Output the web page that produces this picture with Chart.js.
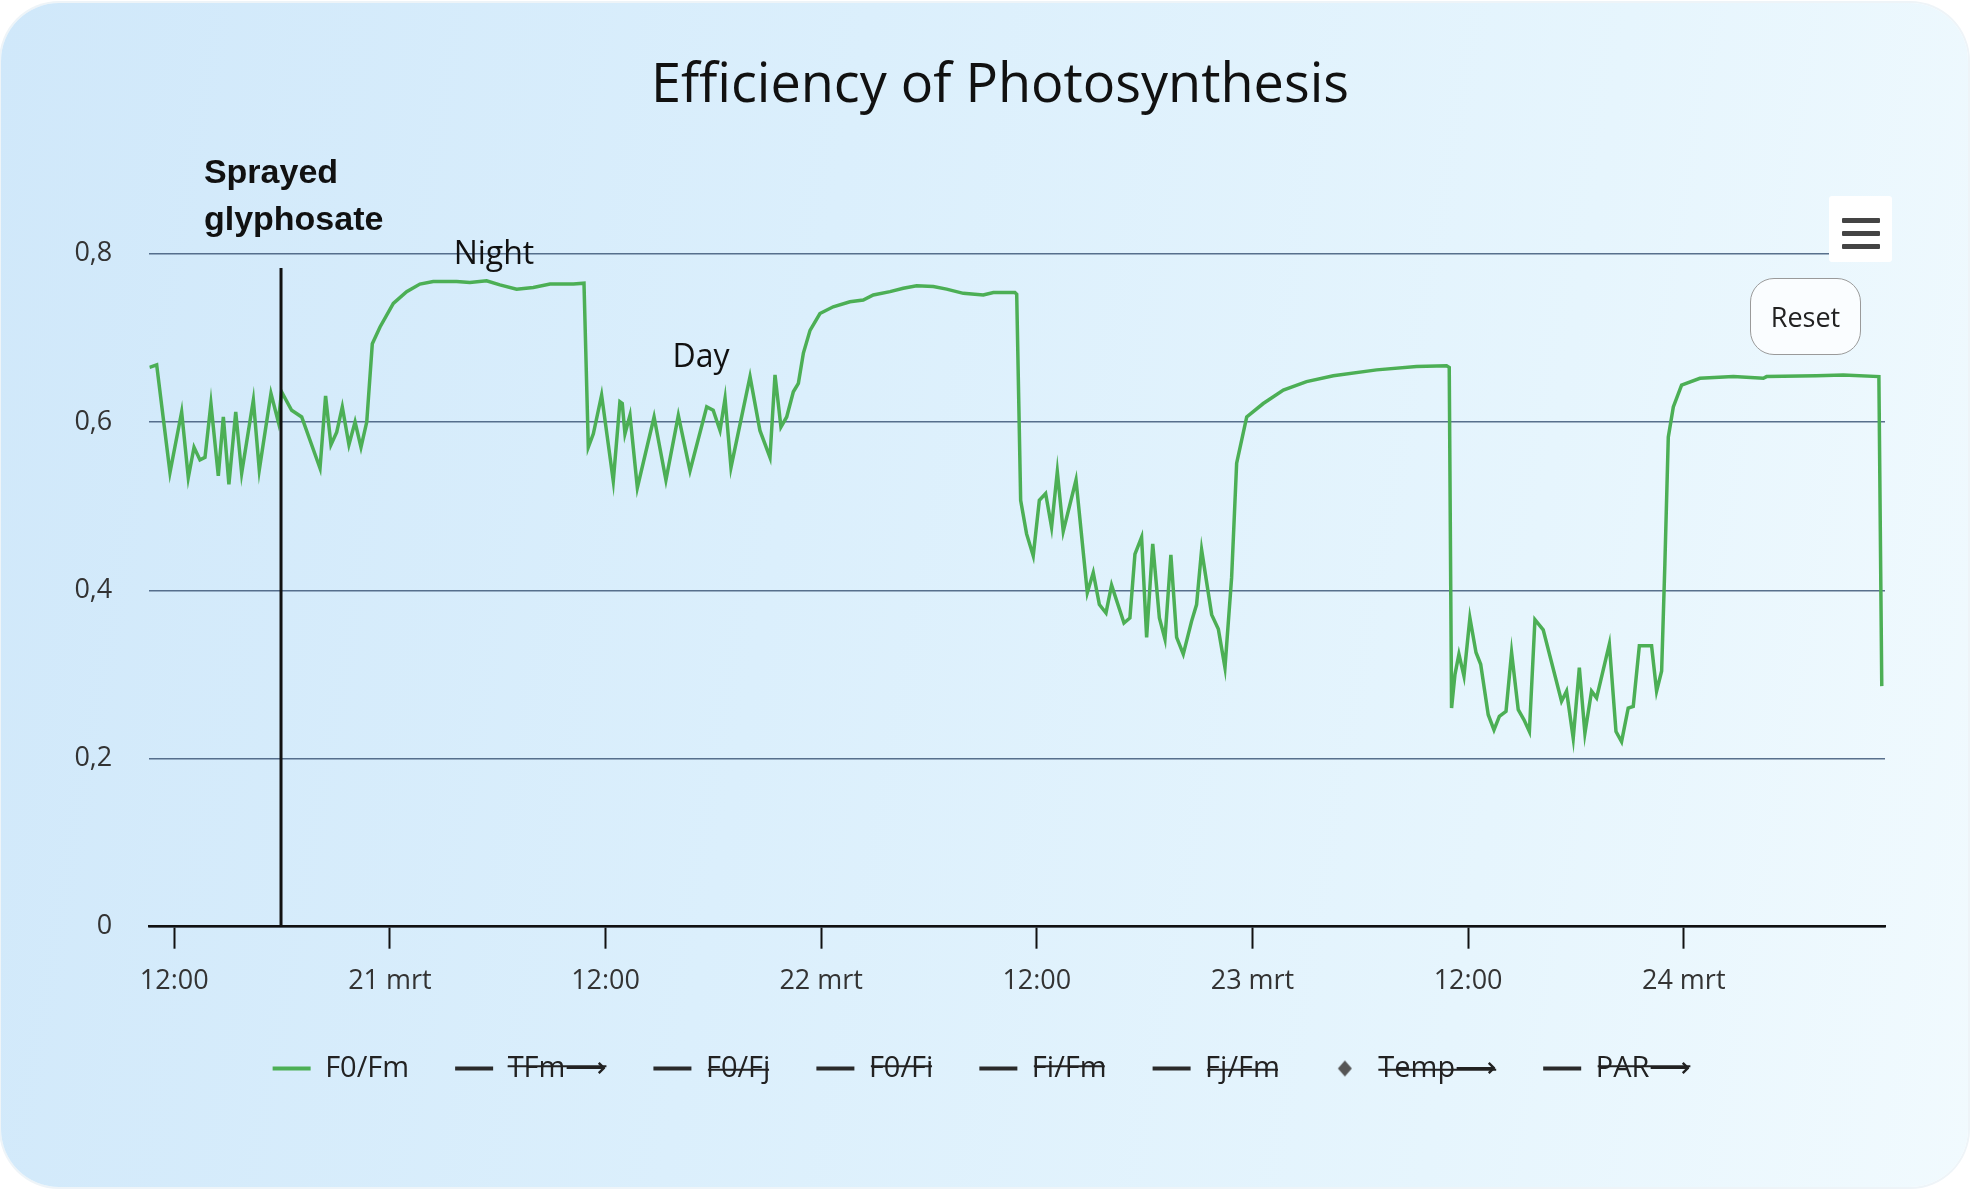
<!DOCTYPE html>
<html lang="nl">
<head>
  <meta charset="UTF-8" />
  <title>Efficiency of Photosynthesis</title>
  <script src="https://cdn.jsdelivr.net/npm/chart.js@4.4.1/dist/chart.umd.min.js"></script>
  <style>
    html, body { margin: 0; padding: 0; background: #fff; }
    body { width: 1971px; height: 1190px; position: relative; overflow: hidden; font-family: "Open Sans", sans-serif; }
    .card {
      position: absolute; left: 1px; top: 3px; width: 1967px; height: 1184px;
      border-radius: 58px;
      background: linear-gradient(100deg, #d0e8fa 0%, #dbeffc 40%, #e6f5fd 75%, #f1fafe 100%);
      box-shadow: 0 0 0 2px #eef4f8;
    }
    #chart { position: absolute; left: 0; top: 0; }
    .menu-btn {
      position: absolute; left: 1829px; top: 196px; width: 63px; height: 66px;
      background: #fff; border-radius: 3px;
    }
    .menu-btn span {
      position: absolute; left: 13px; width: 38px; height: 5px; background: #444; border-radius: 1px;
    }
    .reset-btn {
      position: absolute; left: 1750px; top: 278px; width: 111px; height: 77px;
      box-sizing: border-box; border: 1.5px solid #9a9a9a; border-radius: 24px;
      background: rgba(255, 255, 255, 0.75);
      font: 27px "Open Sans", sans-serif; color: #222;
      display: flex; align-items: center; justify-content: center;
    }
  </style>
</head>

<body>
  <div class="card"></div>
  <canvas id="chart" width="1971" height="1190"></canvas>
  <div class="menu-btn"><span style="top:22px"></span><span style="top:35px"></span><span style="top:48px"></span></div>
  <div class="reset-btn">Reset</div>

<script>
  // time in hours since 20 mrt 00:00
  const hours = [
    10.62, 11.02, 11.76, 12.41, 12.78, 13.10, 13.43, 13.71, 14.04, 14.45,
    14.73, 15.04, 15.42, 15.75, 16.40, 16.73, 17.38, 17.79, 17.97, 18.53,
    19.09, 20.11, 20.42, 20.72, 21.04, 21.35, 21.72, 22.06, 22.39, 22.71,
    23.02, 23.45, 24.19, 24.93, 25.67, 26.41, 27.71, 28.45, 29.38, 30.12,
    31.05, 31.98, 32.91, 34.21, 34.80,
    35.04, 35.32, 35.78, 36.43, 36.80, 36.93, 37.08, 37.36, 37.77, 38.70,
    39.36, 40.05, 40.70, 41.63, 41.99, 42.37, 42.65, 42.98, 44.04, 44.59,
    45.15, 45.43, 45.76, 46.08, 46.45, 46.73, 47.01, 47.38, 47.93, 48.67,
    49.60, 50.34, 50.90, 51.83, 52.57, 53.31, 54.24, 54.98, 55.91, 57.02,
    57.58, 58.78, 58.88,
    59.10, 59.43, 59.80, 60.14, 60.49, 60.82, 61.14, 61.47, 62.18, 62.81,
    63.14, 63.48, 63.85, 64.16, 64.85, 65.18, 65.46, 65.83, 66.11, 66.45,
    66.82, 67.13, 67.46, 67.78, 68.15, 68.61, 68.89, 69.17, 69.73, 70.10,
    70.47, 70.84, 71.12, 71.68, 72.60, 73.72, 75.01, 76.50, 78.91, 81.13,
    82.80, 82.95,
    83.08, 83.27, 83.49, 83.77, 84.10, 84.44, 84.70, 85.12, 85.44, 85.74,
    86.11, 86.42, 86.79, 87.11, 87.41, 87.72, 88.18, 89.20, 89.48, 89.85,
    90.19, 90.50, 90.87, 91.15, 91.86, 92.23, 92.54, 92.91, 93.19, 93.53,
    94.21, 94.49, 94.77, 94.95, 95.14, 95.42, 95.88, 96.90, 98.76, 100.43,
    100.61, 103.39, 104.88, 106.86, 107.02
  ];

  const f0fm = [
    0.665, 0.668, 0.540, 0.612, 0.534, 0.570, 0.555, 0.558, 0.622, 0.536,
    0.606, 0.526, 0.612, 0.539, 0.626, 0.543, 0.634, 0.600, 0.636, 0.614,
    0.606, 0.545, 0.631, 0.573, 0.588, 0.618, 0.573, 0.600, 0.570, 0.600,
    0.693, 0.713, 0.741, 0.755, 0.764, 0.767, 0.767, 0.766, 0.768, 0.763,
    0.758, 0.760, 0.764, 0.764, 0.765,
    0.570, 0.586, 0.632, 0.530, 0.624, 0.622, 0.586, 0.608, 0.522, 0.606,
    0.531, 0.608, 0.542, 0.618, 0.614, 0.590, 0.628, 0.546, 0.654, 0.590,
    0.558, 0.656, 0.594, 0.606, 0.636, 0.646, 0.682, 0.709, 0.729, 0.737,
    0.743, 0.745, 0.751, 0.755, 0.759, 0.762, 0.761, 0.758, 0.753, 0.751,
    0.754, 0.754, 0.752,
    0.507, 0.467, 0.441, 0.507, 0.515, 0.475, 0.541, 0.470, 0.531, 0.397,
    0.421, 0.383, 0.373, 0.406, 0.361, 0.367, 0.443, 0.463, 0.344, 0.455,
    0.367, 0.342, 0.442, 0.344, 0.324, 0.363, 0.383, 0.448, 0.371, 0.354,
    0.308, 0.415, 0.551, 0.606, 0.622, 0.638, 0.648, 0.655, 0.662, 0.666,
    0.667, 0.665,
    0.260, 0.300, 0.324, 0.298, 0.367, 0.326, 0.312, 0.252, 0.234, 0.250,
    0.256, 0.326, 0.258, 0.246, 0.232, 0.365, 0.353, 0.268, 0.280, 0.224,
    0.308, 0.230, 0.280, 0.272, 0.336, 0.232, 0.220, 0.260, 0.262, 0.334,
    0.334, 0.280, 0.304, 0.431, 0.582, 0.618, 0.644, 0.652, 0.654, 0.652,
    0.654, 0.655, 0.656, 0.654, 0.286
  ];

  const seriesNames = ['F0/Fm', 'TFm⟶', 'F0/Fj', 'F0/Fi', 'Fi/Fm', 'Fj/Fm', 'Temp⟶', 'PAR⟶'];
  const hiddenSeries = ['TFm⟶', 'F0/Fj', 'F0/Fi', 'Fi/Fm', 'Fj/Fm', 'Temp⟶', 'PAR⟶'];

  const xTickHours = [12, 24, 36, 48, 60, 72, 84, 96];
  const xTickLabels = ['12:00', '21 mrt', '12:00', '22 mrt', '12:00', '23 mrt', '12:00', '24 mrt'];
  const yTickValues = [0, 0.2, 0.4, 0.6, 0.8];
  const yTickLabels = ['0', '0,2', '0,4', '0,6', '0,8'];

  const sprayHour = 17.94;
  const sprayLineTop = 0.783;
  const textNotes = [
    { text: 'Sprayed', hour: 13.65, value: 0.884, align: 'left', font: 'bold 34px "Liberation Sans", Arial, sans-serif' },
    { text: 'glyphosate', hour: 13.65, value: 0.8285, align: 'left', font: 'bold 34px "Liberation Sans", Arial, sans-serif' },
    { text: 'Night', hour: 29.79, value: 0.788, align: 'center', font: '32px "Open Sans", sans-serif' },
    { text: 'Day', hour: 41.31, value: 0.6656, align: 'center', font: '32px "Open Sans", sans-serif' }
  ];

  Chart.defaults.font.family = '"Open Sans", sans-serif';
  Chart.defaults.color = '#333';

  // small diamond used as legend symbol for Temp
  const diamond = document.createElement('canvas');
  diamond.width = 18; diamond.height = 18;
  const dctx = diamond.getContext('2d');
  dctx.fillStyle = '#555';
  dctx.beginPath();
  dctx.moveTo(9, 1); dctx.lineTo(16, 9); dctx.lineTo(9, 17); dctx.lineTo(2, 9);
  dctx.closePath(); dctx.fill();

  const notesPlugin = {
    id: 'notes',
    afterDatasetsDraw(chart) {
      const { ctx, scales: { x, y } } = chart;
      const lx = x.getPixelForValue(sprayHour);
      ctx.save();
      ctx.strokeStyle = '#111';
      ctx.lineWidth = 3;
      ctx.beginPath();
      ctx.moveTo(lx, y.getPixelForValue(sprayLineTop));
      ctx.lineTo(lx, y.getPixelForValue(0));
      ctx.stroke();
      ctx.fillStyle = '#111';
      ctx.textBaseline = 'alphabetic';
      textNotes.forEach(n => {
        ctx.font = n.font;
        ctx.textAlign = n.align;
        ctx.fillText(n.text, x.getPixelForValue(n.hour), y.getPixelForValue(n.value));
      });
      ctx.restore();
    }
  };

  // legend sits a little left of the title's centre in the original
  const legendShift = {
    id: 'legendShift',
    afterLayout(chart) {
      chart.legend.left -= 18;
      chart.legend.right -= 18;
    }
  };

  const datasets = seriesNames.map(name => {
    const isMain = name === 'F0/Fm';
    return {
      label: name,
      data: isMain ? hours.map((h, i) => ({ x: h, y: f0fm[i] })) : [],
      hidden: hiddenSeries.includes(name),
      borderColor: isMain ? '#4caf55' : '#2a2a2a',
      backgroundColor: isMain ? '#4caf55' : '#2a2a2a',
      borderWidth: 3.5,
      pointRadius: 0,
      tension: 0
    };
  });

  const myChart = new Chart(document.getElementById('chart').getContext('2d'), {
    type: 'line',
    data: { datasets: datasets },
    plugins: [notesPlugin, legendShift],
    options: {
      responsive: false,
      animation: false,
      layout: { padding: { top: 20, left: 60, right: 31, bottom: 97 } },
      plugins: {
        title: {
          display: true,
          text: 'Efficiency of Photosynthesis',
          color: '#111',
          font: { size: 54, weight: 'normal' },
          padding: { top: 34, bottom: 135 }
        },
        legend: {
          position: 'bottom',
          labels: {
            font: { size: 29 },
            color: '#222',
            usePointStyle: true,
            pointStyleWidth: 38,
            padding: 46,
            generateLabels: chart => chart.data.datasets.map((ds, i) => ({
              text: ds.label,
              fillStyle: ds.borderColor,
              strokeStyle: ds.borderColor,
              lineWidth: 4,
              pointStyle: ds.label === 'Temp⟶' ? diamond : 'line',
              hidden: !chart.isDatasetVisible(i),
              fontColor: '#222',
              datasetIndex: i
            }))
          }
        },
        tooltip: { enabled: false }
      },
      scales: {
        x: {
          type: 'linear',
          min: 10.61,
          max: 107.2,
          afterBuildTicks: scale => { scale.ticks = xTickHours.map(v => ({ value: v })); },
          afterFit: scale => { scale.height = 81.3; },
          ticks: {
            autoSkip: false,
            maxRotation: 0,
            padding: 16,
            color: '#333',
            font: { size: 27 },
            callback: value => xTickLabels[xTickHours.indexOf(value)]
          },
          grid: {
            drawOnChartArea: false,
            drawTicks: true,
            tickLength: 22,
            tickColor: '#111',
            tickWidth: 2
          },
          border: { display: true, color: '#111', width: 2.5 }
        },
        y: {
          min: 0,
          max: 0.8,
          afterBuildTicks: scale => { scale.ticks = yTickValues.map(v => ({ value: v })); },
          afterFit: scale => { scale.width = 89.3; },
          ticks: {
            autoSkip: false,
            padding: 37,
            color: '#333',
            font: { size: 27 },
            callback: (value, index) => yTickLabels[index]
          },
          grid: {
            drawTicks: false,
            color: 'rgba(62, 88, 120, 0.85)',
            lineWidth: 1.5
          },
          border: { display: false }
        },
        // empty spacer on the right, keeps the plot edge where the original has it
        yRight: {
          position: 'right',
          min: 0,
          max: 1,
          afterFit: scale => { scale.width = 55; },
          ticks: { display: false },
          grid: { display: false },
          border: { display: false }
        }
      }
    }
  });
</script>
</body>

</html>
